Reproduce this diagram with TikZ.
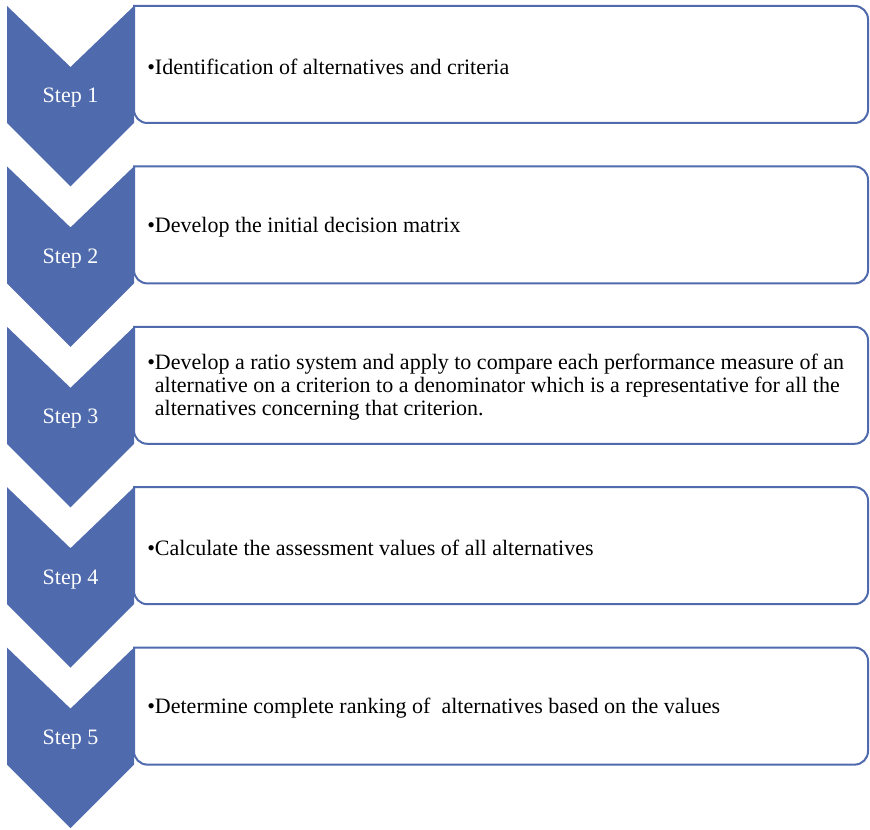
\documentclass[tikz,border=0pt]{standalone}
\usepackage{fontspec}
\setmainfont{Liberation Serif}
\definecolor{stepblue}{HTML}{4F6AAD}
\tikzset{
  chevron/.style={fill=stepblue, draw=none},
  stepbox/.style={draw=stepblue, line width=1.5pt, fill=white, rounded corners=10pt},
  steplabel/.style={text=white, font=\fontsize{16.5}{17.25}\selectfont},
  boxtext/.style={anchor=west, inner sep=0pt, font=\fontsize{16.5}{17.25}\selectfont, text=black},
}
\begin{document}
\begin{tikzpicture}[x=0.75pt, y=-0.75pt]
\useasboundingbox (0,0) rectangle (870,830);
\foreach \i/\txt in {
  0/{Identification of alternatives and criteria},
  1/{Develop the initial decision matrix},
  2/{Develop a ratio system and apply to compare each performance measure of an\\alternative on a criterion to a denominator which is a representative for all the\\alternatives concerning that criterion.},
  3/{Calculate the assessment values of all alternatives},
  4/{Determine complete ranking of\ \ alternatives based on the values}} {
  \pgfmathsetmacro{\t}{6+160.4*\i}
  \pgfmathsetmacro{\b}{\t+117}
  % text panel with rounded right-hand corners
  \draw[stepbox] (134,\t) -- (868,\t) -- (868,\b) -- (134,\b) [sharp corners] -- cycle;
  % downward chevron
  \fill[chevron] (7,\t) -- (70.5,\t+61) -- (134,\t) -- (134,\b) -- (70.5,\b+63.5) -- (7,\b) -- cycle;
  \pgfmathtruncatemacro{\n}{\i+1}
  \node[steplabel] (s\n) at (70.5,\t+92) {Step \n};
  \node[boxtext] (t\n) at (147,\t+60.5) {•\parbox[t]{600pt}{\txt}};
}
\end{tikzpicture}
\end{document}
